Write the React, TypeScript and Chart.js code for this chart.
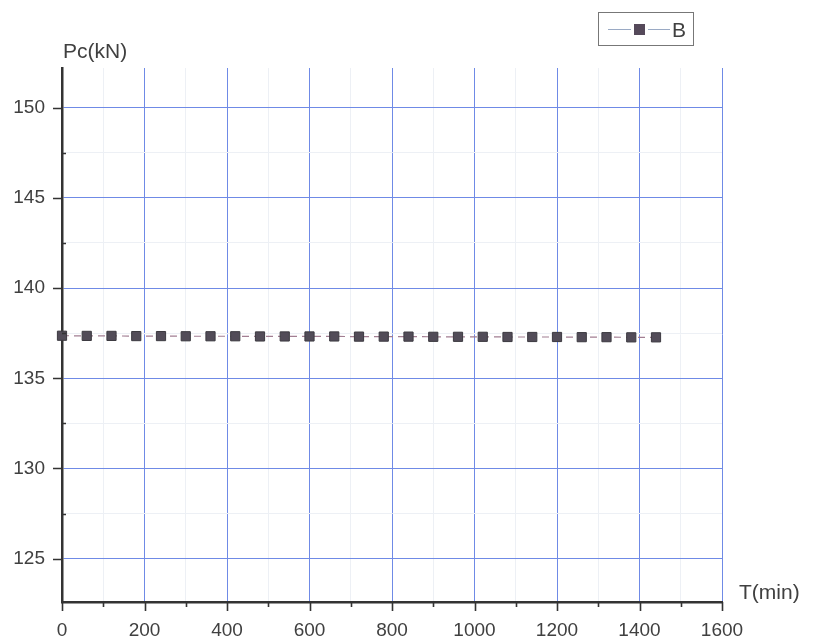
import React, { useEffect, useRef } from "react";
import { Chart, registerables } from "chart.js";

Chart.register(...registerables);

const timeMin = [0, 60, 120, 180, 240, 300, 360, 420, 480, 540, 600, 660, 720, 780, 840, 900, 960, 1020, 1080, 1140, 1200, 1260, 1320, 1380, 1440];
const pcKN = [137.36, 137.35, 137.35, 137.34, 137.34, 137.33, 137.33, 137.33, 137.32, 137.32, 137.32, 137.32, 137.31, 137.31, 137.31, 137.30, 137.30, 137.30, 137.29, 137.29, 137.29, 137.28, 137.28, 137.27, 137.27];
const seriesLabel = "B";
const xTicks = [0, 100, 200, 300, 400, 500, 600, 700, 800, 900, 1000, 1100, 1200, 1300, 1400, 1500, 1600];
const yTicks = [125, 127.5, 130, 132.5, 135, 137.5, 140, 142.5, 145, 147.5, 150];
const xTitle = "T(min)";
const yTitle = "Pc(kN)";

const FONT = "'Liberation Sans', Arial, sans-serif";
const TEXT = "#404040";

const decorPlugin = {
  id: "decor",
  afterDraw(chart: any) {
    const ctx = chart.ctx;
    const area = chart.chartArea;
    const xs = chart.scales.x;
    const ys = chart.scales.y;
    ctx.save();
    // tick marks
    ctx.strokeStyle = "#333";
    ctx.lineWidth = 1.6;
    ctx.beginPath();
    xTicks.forEach((v) => {
      const px = Math.round(xs.getPixelForValue(v)) + 0.5;
      const major = v % 200 === 0;
      ctx.moveTo(px, area.bottom);
      ctx.lineTo(px, area.bottom + (major ? 9 : 5));
    });
    yTicks.forEach((v) => {
      const py = Math.round(ys.getPixelForValue(v)) + 0.5;
      const major = v % 5 === 0;
      if (major) {
        ctx.moveTo(area.left - 9, py);
        ctx.lineTo(area.left, py);
      } else {
        ctx.moveTo(area.left, py);
        ctx.lineTo(area.left + 4, py);
      }
    });
    ctx.stroke();
    // axis titles
    ctx.fillStyle = TEXT;
    ctx.font = `21px ${FONT}`;
    ctx.textBaseline = "alphabetic";
    ctx.textAlign = "left";
    ctx.fillText(yTitle, area.left + 1, 58);
    ctx.fillText(xTitle, area.right + 17, 599);
    // legend
    const lx = 598, ly = 12, lw = 95, lh = 33;
    ctx.strokeStyle = "#777";
    ctx.lineWidth = 1;
    ctx.strokeRect(lx + 0.5, ly + 0.5, lw, lh);
    ctx.strokeStyle = "#9aaac4";
    ctx.beginPath();
    ctx.moveTo(lx + 10, ly + 17.5);
    ctx.lineTo(lx + 33, ly + 17.5);
    ctx.moveTo(lx + 50, ly + 17.5);
    ctx.lineTo(lx + 72, ly + 17.5);
    ctx.stroke();
    ctx.fillStyle = "#55495a";
    ctx.fillRect(lx + 36, ly + 12, 11, 11);
    ctx.fillStyle = TEXT;
    ctx.font = `21px ${FONT}`;
    ctx.fillText(seriesLabel, lx + 74, ly + 25);
    ctx.restore();
  },
};

export default function App() {
  const ref = useRef<HTMLCanvasElement | null>(null);
  useEffect(() => {
    if (!ref.current) return;
    const chart = new Chart(ref.current, {
      type: "line",
      data: {
        datasets: [
          {
            label: seriesLabel,
            data: timeMin.map((t, i) => ({ x: t, y: pcKN[i] })),
            borderColor: "#a27e92",
            borderWidth: 1.2,
            borderDash: [7, 5],
            pointStyle: "rect",
            pointRadius: 6.5,
            pointBackgroundColor: "#524c58",
            pointBorderColor: "#3c3a40",
            pointBorderWidth: 1,
            fill: false,
            clip: false,
          },
        ],
      },
      options: {
        animation: false,
        responsive: true,
        maintainAspectRatio: false,
        layout: { padding: { left: 0, right: 94, top: 68, bottom: 0 } },
        plugins: { legend: { display: false }, tooltip: { enabled: false } },
        scales: {
          x: {
            type: "linear",
            min: 0,
            max: 1600,
            afterBuildTicks: (s: any) => {
              s.ticks = xTicks.map((v) => ({ value: v }));
            },
            afterFit: (s: any) => {
              s.height = 38;
            },
            ticks: {
              autoSkip: false,
              maxRotation: 0,
              padding: 17,
              color: TEXT,
              font: { family: FONT, size: 19 },
              callback: (v: any) => (Number(v) % 200 === 0 ? String(v) : ""),
            },
            grid: {
              color: (c: any) => (c.tick && c.tick.value % 200 === 0 ? "#6f8ae6" : "#edf0f5"),
              lineWidth: 1,
              drawTicks: false,
            },
            border: { color: "#333", width: 2.5 },
          },
          y: {
            type: "linear",
            min: 122.6,
            max: 152.2,
            afterBuildTicks: (s: any) => {
              s.ticks = yTicks.map((v) => ({ value: v }));
            },
            afterFit: (s: any) => {
              s.width = 62;
            },
            ticks: {
              autoSkip: false,
              padding: 17,
              color: TEXT,
              font: { family: FONT, size: 19 },
              callback: (v: any) => (Number(v) % 5 === 0 ? String(v) : ""),
            },
            grid: {
              color: (c: any) => (c.tick && c.tick.value % 5 === 0 ? "#6f8ae6" : "#edf0f5"),
              lineWidth: 1,
              drawTicks: false,
            },
            border: { color: "#333", width: 2.5 },
          },
        },
      },
      plugins: [decorPlugin],
    } as any);
    return () => chart.destroy();
  }, []);
  return (
    <div style={{ position: "fixed", left: 0, top: 0, width: 816, height: 640, background: "#fff" }}>
      <canvas ref={ref} />
    </div>
  );
}
